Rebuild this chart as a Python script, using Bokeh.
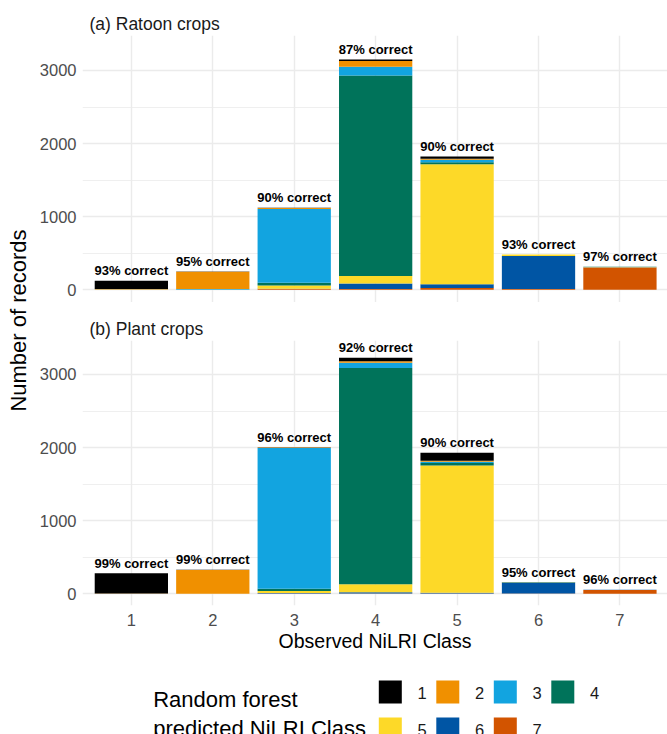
import numpy as np
from bokeh.plotting import figure
from bokeh.models import ColumnDataSource, Range1d, FixedTicker
from bokeh.layouts import column, row
from bokeh.embed import file_html
from bokeh.resources import INLINE
from bokeh.core.properties import value

# ---------------- data ----------------
observed = [1, 2, 3, 4, 5, 6, 7]
observed_labels = ["1", "2", "3", "4", "5", "6", "7"]
pred_classes = ["1", "2", "3", "4", "5", "6", "7"]
colors = ["#000000", "#F09000", "#12A4E0", "#00735A", "#FDD928", "#0055A4", "#D25400"]

# records predicted as class k, for observed classes 1..7 (Ratoon crops)
ratoon_pred1 = [116, 3, 2, 20, 30, 0, 0]
ratoon_pred2 = [5, 238, 15, 80, 12, 0, 0]
ratoon_pred3 = [3, 5, 1009, 120, 35, 0, 0]
ratoon_pred4 = [1, 4, 35, 2740, 28, 2, 3]
ratoon_pred5 = [0, 0, 45, 105, 1640, 20, 3]
ratoon_pred6 = [0, 0, 5, 75, 52, 449, 4]
ratoon_pred7 = [0, 0, 10, 10, 25, 12, 305]

# Plant crops
plant_pred1 = [279, 1, 5, 50, 110, 0, 0]
plant_pred2 = [1, 325, 5, 20, 15, 0, 0]
plant_pred3 = [1, 1, 1925, 70, 15, 0, 0]
plant_pred4 = [1, 1, 30, 2960, 35, 1, 0]
plant_pred5 = [0, 0, 30, 110, 1740, 4, 0]
plant_pred6 = [0, 0, 5, 15, 10, 152, 2]
plant_pred7 = [0, 0, 5, 5, 5, 3, 53]

ratoon = dict(zip(pred_classes, [ratoon_pred1, ratoon_pred2, ratoon_pred3, ratoon_pred4,
                                 ratoon_pred5, ratoon_pred6, ratoon_pred7]))
plant = dict(zip(pred_classes, [plant_pred1, plant_pred2, plant_pred3, plant_pred4,
                                plant_pred5, plant_pred6, plant_pred7]))

y_ticks = [0, 1000, 2000, 3000]
y_minor = [500, 1500, 2500]

FONT = "Liberation Sans"
GRID = "#ebebeb"
TICKCOL = "#4d4d4d"

LABEL_W = 34
MAIN_W = 633


def make_panel(title, data, y_start, y_end, height, border_top, border_bottom, show_x):
    src = dict(x=observed)
    for k in pred_classes:
        src["c" + k] = data[k]
    totals = [sum(data[k][i] for k in pred_classes) for i in range(len(observed))]
    labels = ["%d%% correct" % round(100.0 * data[str(o)][i] / totals[i])
              for i, o in enumerate(observed)]
    src["total"] = totals
    src["label"] = labels
    source = ColumnDataSource(src)

    p = figure(width=MAIN_W, height=height,
               x_range=Range1d(0.4, 7.584), y_range=Range1d(y_start, y_end),
               output_backend="svg", toolbar_location=None,
               min_border_left=48, min_border_right=0,
               min_border_top=border_top, min_border_bottom=border_bottom,
               x_axis_location="below" if show_x else None)
    p.outline_line_color = None
    p.background_fill_color = "white"
    p.border_fill_color = "white"

    stackers = ["c" + k for k in reversed(pred_classes)]
    p.vbar_stack(stackers, x="x", width=0.9, fill_color=list(reversed(colors)),
                 line_color=None, source=source)

    p.text(x="x", y="total", text="label", source=source,
           text_align="center", text_baseline="alphabetic", y_offset=-10,
           text_font=value(FONT), text_font_size="13px", text_font_style="bold",
           text_color="#000000")

    p.title.text = title
    p.title.align = "left"
    p.title.offset = 7
    p.title.text_font = FONT
    p.title.text_font_size = "17.5px"
    p.title.text_font_style = "normal"
    p.title.text_color = "#1a1a1a"
    p.title.standoff = 4

    tk = FixedTicker(ticks=y_ticks, minor_ticks=y_minor)
    p.yaxis.ticker = tk
    p.yaxis.axis_line_color = None
    p.yaxis.major_tick_line_color = None
    p.yaxis.minor_tick_line_color = None
    p.yaxis.major_tick_out = 0
    p.yaxis.major_tick_in = 0
    p.yaxis.minor_tick_out = 0
    p.yaxis.minor_tick_in = 0
    p.yaxis.major_label_standoff = 6
    p.yaxis.major_label_text_font = FONT
    p.yaxis.major_label_text_font_size = "16.5px"
    p.yaxis.major_label_text_color = TICKCOL

    p.ygrid.ticker = tk
    p.ygrid.grid_line_color = GRID
    p.ygrid.grid_line_width = 1.4
    p.ygrid.minor_grid_line_color = GRID
    p.ygrid.minor_grid_line_width = 0.8

    p.xgrid.ticker = FixedTicker(ticks=observed)
    p.xgrid.grid_line_color = GRID
    p.xgrid.grid_line_width = 1.4

    if show_x:
        p.xaxis.ticker = FixedTicker(ticks=observed)
        p.xaxis.major_label_overrides = {o: l for o, l in zip(observed, observed_labels)}
        p.xaxis.axis_line_color = None
        p.xaxis.major_tick_line_color = None
        p.xaxis.minor_tick_line_color = None
        p.xaxis.major_tick_out = 0
        p.xaxis.major_tick_in = 0
        p.xaxis.minor_tick_out = 0
        p.xaxis.major_label_standoff = 8
        p.xaxis.major_label_text_font = FONT
        p.xaxis.major_label_text_font_size = "16.5px"
        p.xaxis.major_label_text_color = TICKCOL
        p.xaxis.axis_label = "Observed NiLRI Class"
        p.xaxis.axis_label_text_font = FONT
        p.xaxis.axis_label_text_font_size = "19.5px"
        p.xaxis.axis_label_text_font_style = "normal"
        p.xaxis.axis_label_text_color = "#000000"
        p.xaxis.axis_label_standoff = 1
    return p


top = make_panel("(a) Ratoon crops", ratoon, -174, 3478, 302, 35, 0, False)
bottom = make_panel("(b) Plant crops", plant, -160, 3465, 358, 38, 55, True)

# ---- y-axis title spanning both panels ----
LH = 660
lf = figure(width=LABEL_W, height=LH, x_range=Range1d(0, LABEL_W), y_range=Range1d(0, LH),
            output_backend="svg", toolbar_location=None, min_border=0,
            x_axis_location=None, y_axis_location=None)
lf.outline_line_color = None
lf.grid.visible = False
lf.text(x=[18], y=[LH - 320], text=["Number of records"], angle=np.pi / 2,
        text_align="center", text_baseline="middle",
        text_font=value(FONT), text_font_size="22px", text_color="#000000")

# ---- legend ----
LGW, LGH = LABEL_W + MAIN_W, 74
lg = figure(width=LGW, height=LGH, x_range=Range1d(0, LGW), y_range=Range1d(0, LGH),
            output_backend="svg", toolbar_location=None, min_border=0,
            x_axis_location=None, y_axis_location=None)
lg.outline_line_color = None
lg.grid.visible = False
cols = [i % 4 for i in range(len(pred_classes))]
rows = [i // 4 for i in range(len(pred_classes))]
sq_x = [389.8 + 57.5 * c for c in cols]
sq_y = [42.5 - 37 * r for r in rows]
lb_x = [417 + 57.5 * c for c in cols]
lb_y = [42 - 37 * r for r in rows]
lg.scatter(x=sq_x, y=sq_y, marker="square", size=23, fill_color=colors, line_color=None)
lg.text(x=lb_x, y=lb_y, text=pred_classes, text_align="left", text_baseline="alphabetic",
        text_font=value(FONT), text_font_size="16.5px", text_color="#1a1a1a")
lg.text(x=[152.7, 152.7], y=[35, 6], text=["Random forest", "predicted NiLRI Class"],
        text_align="left", text_baseline="alphabetic",
        text_font=value(FONT), text_font_size="22px", text_color="#000000")

layout = column(row(lf, column(top, bottom, spacing=0), spacing=0), lg, spacing=0)

with open("out.html", "w") as f:
    f.write(file_html(layout, INLINE))
